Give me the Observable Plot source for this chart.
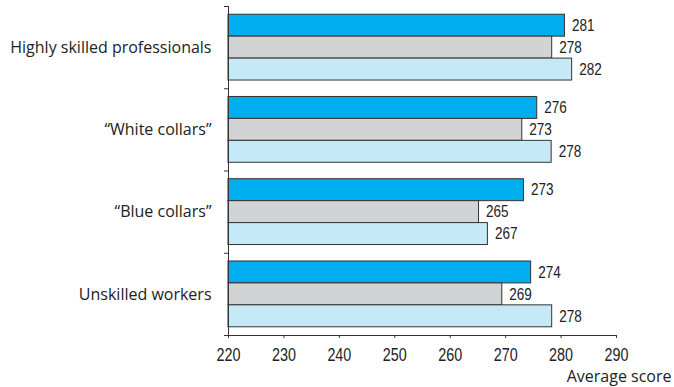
<!DOCTYPE html>
<html>
<head>
<meta charset="utf-8">
<script src="https://cdn.jsdelivr.net/npm/d3@7"></script>
<script src="https://cdn.jsdelivr.net/npm/@observablehq/plot@0.6"></script>
<style>
  html, body { margin: 0; padding: 0; background: #fff; }
</style>
</head>
<body>
<div id="chart"></div>
<script>
// ---- data ----
const categories = ["Highly skilled professionals", "\u201CWhite collars\u201D", "\u201CBlue collars\u201D", "Unskilled workers"];
const seriesNames = ["Series A", "Series B", "Series C"];
// bar lengths
const seriesA = [280.7, 275.7, 273.3, 274.6];
const seriesB = [278.4, 273.0, 265.2, 269.4];
const seriesC = [282.0, 278.3, 266.8, 278.4];
// printed value labels
const labelsA = ["281", "276", "273", "274"];
const labelsB = ["278", "273", "265", "269"];
const labelsC = ["282", "278", "267", "278"];
const xTicks = [220, 230, 240, 250, 260, 270, 280, 290];
const xTitle = "Average score";
const colors = ["#00aeef", "#d1d3d4", "#c6e9f8"];

// ---- table ----
const seriesValues = [seriesA, seriesB, seriesC];
const seriesLabels = [labelsA, labelsB, labelsC];
const pad = 0.1;
const barH = (1 - 2 * pad) / seriesNames.length;
const rows = [];
categories.forEach((c, i) => {
  seriesNames.forEach((s, j) => {
    const y1 = i + pad + j * barH;
    rows.push({category: c, series: s, value: seriesValues[j][i], label: seriesLabels[j][i], y1, y2: y1 + barH, yc: y1 + barH / 2});
  });
});

const labelFont = "'Open Sans', 'Noto Sans', sans-serif";
const numFont = "'Liberation Sans', Arial, sans-serif";
const ink = "#333";

const chart = Plot.plot({
  width: 674,
  height: 387,
  marginTop: 6,
  marginBottom: 52,
  marginLeft: 228,
  marginRight: 58,
  style: {background: "#fff", color: ink},
  x: {domain: [xTicks[0], xTicks[xTicks.length - 1]], label: null},
  y: {domain: [0, categories.length], reverse: true, label: null},
  color: {domain: seriesNames, range: colors},
  marks: [
    Plot.rect(rows, {x1: xTicks[0], x2: "value", y1: "y1", y2: "y2", fill: "series", stroke: ink, strokeWidth: 1}),
    Plot.text(rows, {x: "value", y: "yc", text: "label", dx: 7, textAnchor: "start", fontSize: 16.5, fontFamily: numFont, fill: "#222", className: "narrow"}),
    // axis lines
    Plot.ruleX([xTicks[0]], {y1: 0, y2: categories.length, stroke: ink}),
    Plot.ruleY([categories.length], {x1: xTicks[0], x2: xTicks[xTicks.length - 1], stroke: ink}),
    // group boundary ticks
    Plot.axisY({ticks: d3.range(0, categories.length + 1), tickSize: 4, tickFormat: () => "", stroke: ink, label: null}),
    // category labels
    Plot.axisY({ticks: categories.map((c, i) => i + 0.5), tickSize: 0, tickPadding: 17, tickFormat: d => categories[Math.floor(d)], fontSize: 16, fontFamily: labelFont, label: null, fill: "#222"}),
    // x axis
    Plot.axisX({ticks: xTicks, tickSize: 3, tickPadding: 10, fontSize: 17.5, fontFamily: numFont, label: null, stroke: ink, fill: "#222", className: "narrow"}),
    Plot.text([xTitle], {frameAnchor: "bottom-right", dx: 55, dy: 41, lineAnchor: "middle", textAnchor: "end", fontSize: 16, fontFamily: labelFont, fill: "#222"})
  ]
});
document.getElementById("chart").appendChild(chart);
// condensed look for the numerals
d3.select(chart).selectAll(".narrow text").each(function() {
  const w = this.getComputedTextLength();
  this.setAttribute("textLength", (w * 0.82).toFixed(2));
  this.setAttribute("lengthAdjust", "spacingAndGlyphs");
});
</script>
</body>
</html>
